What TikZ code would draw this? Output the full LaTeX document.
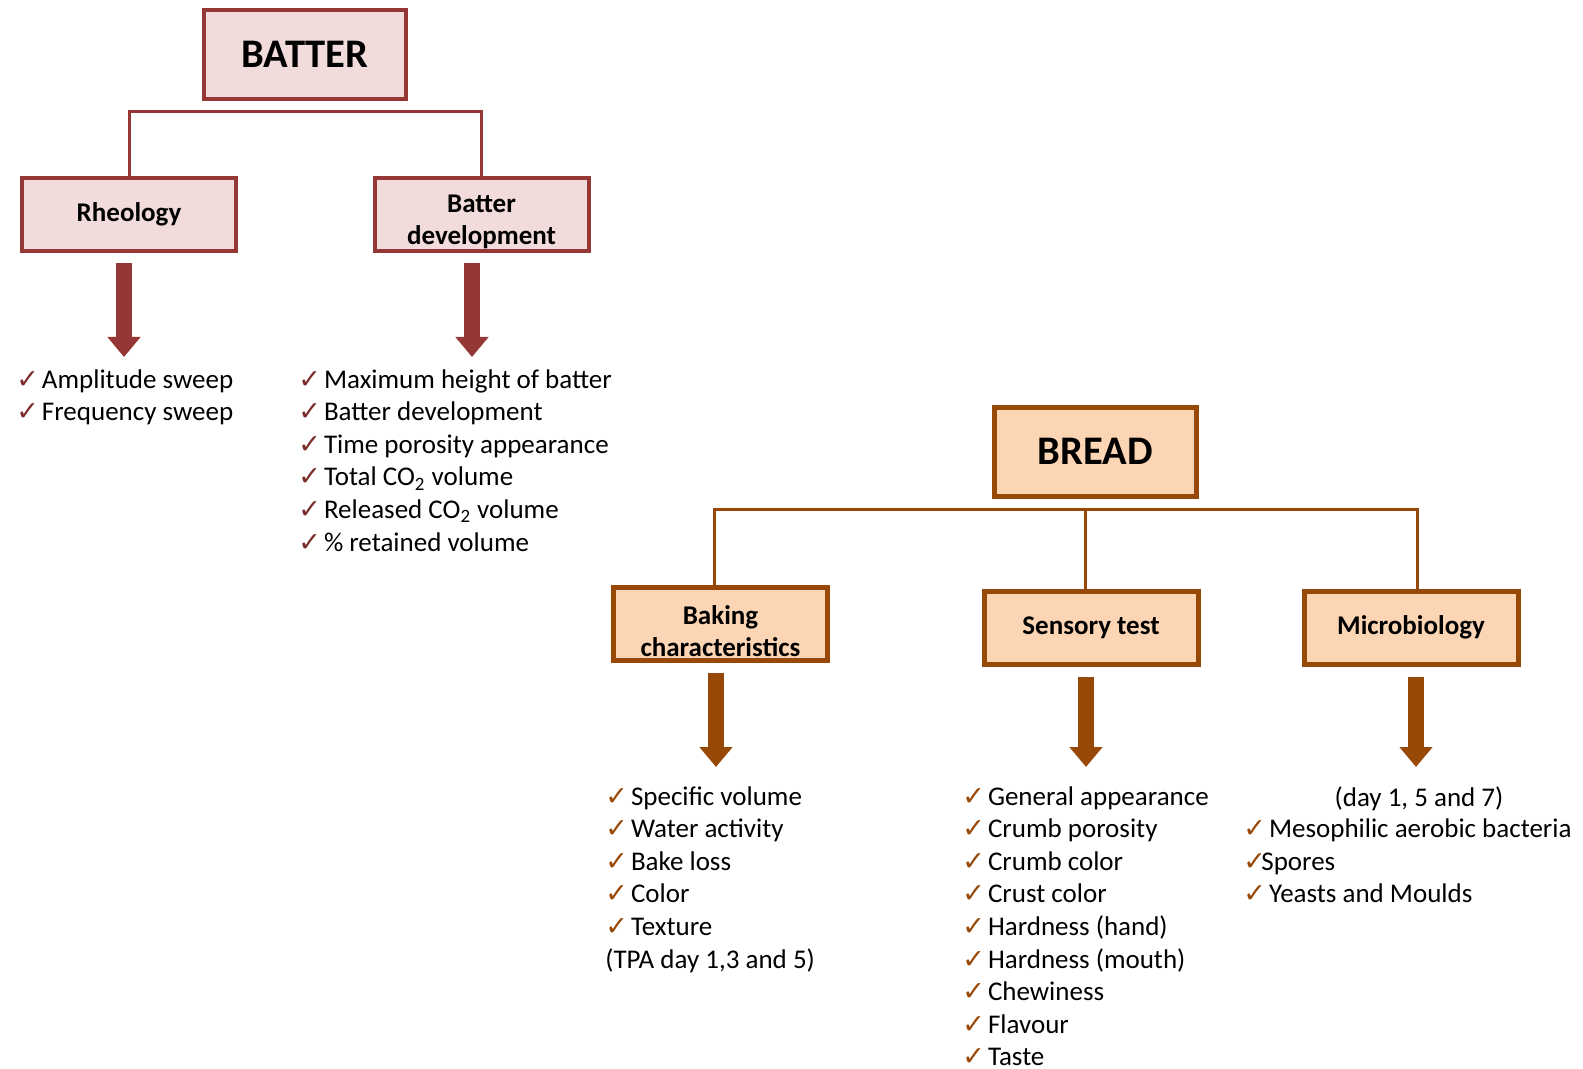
\documentclass[tikz,border=0pt]{standalone}
\usepackage{fontspec}
\setmainfont{Carlito}
\newfontfamily\symfont{DejaVu Sans}
\usetikzlibrary{arrows.meta,calc}

\definecolor{batline}{HTML}{953735}
\definecolor{batfill}{HTML}{F2DCDB}
\definecolor{batcheck}{HTML}{7A2B2A}
\definecolor{breadline}{HTML}{984807}
\definecolor{breadfill}{HTML}{FCD5B5}

% tick in front of a list line
\newcommand{\tick}[2][12.8pt]{\makebox[#1][l]{\textcolor{#2}{\symfont\fontsize{13.5}{13.5}\selectfont ✓}}}

\tikzset{
  batbox/.style={draw=batline, fill=batfill, line width=2pt, inner sep=0pt, align=center,
    minimum width=107pt, minimum height=36.5pt, font=\bfseries\fontsize{13.5}{16.2}\selectfont},
  breadbox/.style={batbox, draw=breadline, fill=breadfill, line width=2.5pt},
  titlebox/.style={minimum width=101pt, minimum height=44.5pt, font=\bfseries\fontsize{20.3}{24}\selectfont},
  batconn/.style={draw=batline, line width=1.5pt},
  breadconn/.style={draw=breadline, line width=1.5pt},
  batarrow/.style={draw=batline, line width=8pt, shorten <=5pt, -{Triangle[width=16pt,length=10pt]}},
  breadarrow/.style={batarrow, draw=breadline},
  itemlist/.style={anchor=north west, inner sep=0pt, align=left, font=\fontsize{13.5}{16.3}\selectfont}
}

\begin{document}
\begin{tikzpicture}[x=0.5pt,y=-0.5pt]
\useasboundingbox (0,0) rectangle (1583,1069);

% batter
\node[batbox,titlebox] (batter) at (305,54.5) {BATTER};
\node[batbox] (rheo) at (129,214.5) {Rheology};
\node[batbox] (batdev) at (481.5,214.5) {\rule{0pt}{16pt}Batter\\development};
\coordinate (batbar) at (305,112);
\draw[batconn] (rheo.north) |- (batbar) -| (batdev.north);

\coordinate (rheotip) at (124,357);
\coordinate (batdevtip) at (472,357);
\draw[batarrow] (rheotip |- rheo.south) -- (rheotip);
\draw[batarrow] (batdevtip |- batdev.south) -- (batdevtip);

\node[itemlist] (rheolist) at (16,369) {%
  \tick{batcheck}Amplitude sweep\\
  \tick{batcheck}Frequency sweep};
\node[itemlist] (batdevlist) at (298,369) {%
  \tick{batcheck}Maximum height of batter\\
  \tick{batcheck}Batter development\\
  \tick{batcheck}Time porosity appearance\\
  \tick{batcheck}Total CO\textsubscript{2} volume\\
  \tick{batcheck}Released CO\textsubscript{2} volume\\
  \tick{batcheck}\% retained volume};

% bread
\node[breadbox,titlebox] (bread) at (1095,451.5) {BREAD};
\node[breadbox] (bake) at (720.5,624) {\rule{0pt}{16.5pt}Baking\\characteristics};
\node[breadbox] (sens) at (1091,627.5) {Sensory test};
\node[breadbox] (micro) at (1411,627.5) {Microbiology};
\coordinate (breadbar) at (1085,509);
\draw[breadconn] ([xshift=-3.25pt]bake.north) |- (breadbar) -| ([xshift=3pt]micro.north);
\draw[breadconn] ([xshift=-3pt]sens.north) -- (breadbar);

\coordinate (baketip) at (716,767);
\coordinate (senstip) at (1086,767);
\coordinate (microtip) at (1416,767);
\draw[breadarrow] (baketip |- bake.south) -- (baketip);
\draw[breadarrow] (senstip |- sens.south) -- (senstip);
\draw[breadarrow] (microtip |- micro.south) -- (microtip);

\node[itemlist] (bakelist) at (605,786) {%
  \tick{breadline}Specific volume\\
  \tick{breadline}Water activity\\
  \tick{breadline}Bake loss\\
  \tick{breadline}Color\\
  \tick{breadline}Texture\\
  (TPA day 1,3 and 5)};
\node[itemlist] (senslist) at (962,786) {%
  \tick{breadline}General appearance\\
  \tick{breadline}Crumb porosity\\
  \tick{breadline}Crumb color\\
  \tick{breadline}Crust color\\
  \tick{breadline}Hardness (hand)\\
  \tick{breadline}Hardness (mouth)\\
  \tick{breadline}Chewiness\\
  \tick{breadline}Flavour\\
  \tick{breadline}Taste};
\node[itemlist, anchor=north] (microdays) at (1419,786) {(day 1, 5 and 7)};
\node[itemlist] (microlist) at (1243,818.5) {%
  \tick{breadline}Mesophilic aerobic bacteria\\
  \tick[9pt]{breadline}Spores\\
  \tick{breadline}Yeasts and Moulds};
\end{tikzpicture}
\end{document}
